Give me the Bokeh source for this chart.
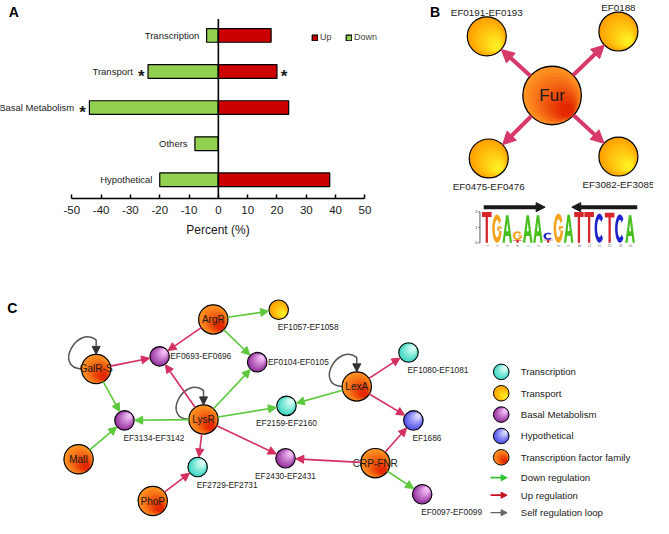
import math
import numpy as np
from bokeh.plotting import figure
from bokeh.models import (Range1d, ColumnDataSource, Arrow, NormalHead, Legend,
                          LegendItem, FixedTicker)
from bokeh.layouts import column, row
from bokeh.embed import file_html
from bokeh.resources import INLINE
from bokeh.core.properties import value

FONT = "Liberation Sans"

# ---------------- Panel A data ----------------
categories = ["Transcription", "Transport", "Basal Metabolism", "Others", "Hypothetical"]
up_values = [18, 20, 24, 0, 38]
down_values = [-4, -24, -44, -8, -20]
star_down = [False, True, True, False, False]
star_up = [False, True, False, False, False]
x_ticks = [-50, -40, -30, -20, -10, 0, 10, 20, 30, 40, 50]

# ---------------- Panel B data ----------------
fur_name = "Fur"
fur_x, fur_y = 565, 98
fur_targets = ["EF0191-EF0193", "EF0188", "EF0475-EF0476", "EF3082-EF3085"]
fur_target_x = [498, 633, 500, 633]
fur_target_y = [37, 32, 163, 161]
fur_label_side = ["above", "above", "below", "below"]

logo_letters = ["T", "G", "A", "G", "A", "A", "C", "G", "A", "T", "T", "C", "T", "C", "A"]
logo_bits = [1.98, 1.83, 1.77, 0.56, 1.77, 1.77, 0.45, 1.88, 1.81, 1.98, 1.98, 1.88, 1.94, 1.83, 1.77]
logo_minor_pos = [4, 7]
logo_minor_letters = ["T", "T"]
logo_minor_bits = [0.18, 0.2]

# ---------------- Panel C data ----------------
tf_names = ["ArgR", "GalR-S", "LysR", "MalI", "PhoP", "LexA", "CRP-FNR"]
tf_x = [218, 98, 208, 80, 156, 365, 384]
tf_y = [329, 380, 432, 473, 516, 398, 477]
gene_names = ["EF1057-EF1058", "EF0693-EF0696", "EF0104-EF0105", "EF3134-EF3142",
              "EF2159-EF2160", "EF2729-EF2731", "EF2430-EF2431", "EF1080-EF1081",
              "EF1686", "EF0097-EF0099"]
gene_class = ["Transport", "Basal Metabolism", "Basal Metabolism", "Basal Metabolism",
              "Transcription", "Transcription", "Basal Metabolism", "Transcription",
              "Hypothetical", "Basal Metabolism"]
gene_x = [285, 163, 263, 127, 293, 202, 292, 418, 423, 432]
gene_y = [319, 367, 373, 433, 418, 481, 472, 363, 433, 509]
gene_label_side = ["below_right", "right", "right", "below_right", "below",
                   "below_right", "below", "below_right", "below_right", "below_right"]
edge_source = ["ArgR", "ArgR", "ArgR", "GalR-S", "GalR-S", "LysR", "LysR", "LysR", "LysR",
               "LysR", "LysR", "MalI", "PhoP", "LexA", "LexA", "LexA", "CRP-FNR", "CRP-FNR",
               "CRP-FNR"]
edge_target = ["EF1057-EF1058", "EF0693-EF0696", "EF0104-EF0105", "EF0693-EF0696",
               "EF3134-EF3142", "EF0693-EF0696", "EF0104-EF0105", "EF2159-EF2160",
               "EF3134-EF3142", "EF2729-EF2731", "EF2430-EF2431", "EF3134-EF3142",
               "EF2729-EF2731", "EF2159-EF2160", "EF1080-EF1081", "EF1686",
               "EF2430-EF2431", "EF1686", "EF0097-EF0099"]
edge_kind = ["down", "up", "down", "up", "down", "up", "down", "down", "down", "up", "up",
             "down", "up", "down", "up", "up", "up", "up", "down"]
self_loops = ["GalR-S", "LysR", "LexA"]
class_names = ["Transcription", "Transport", "Basal Metabolism", "Hypothetical",
               "Transcription factor family"]
regulation_names = ["Down regulation", "Up regulation", "Self regulation  loop"]
regulation_kind = ["down", "up", "self"]

# ---------------- styles ----------------
CLASS_STYLE = {
    "Transcription": ("#3cd6c2", "#d8fff6", (0.7, -0.7)),
    "Transport": ("#ffa000", "#ffec20", (0.7, 0.7)),
    "Basal Metabolism": ("#96329f", "#f2bdf5", (0.7, -0.7)),
    "Hypothetical": ("#5050ea", "#d8d8ff", (0.7, -0.7)),
    "Transcription factor family": ("#ff9422", "#e42800", (0.7, 0.7)),
}
REG_COLOR = {"down": "#5cc83c", "up": "#d42f5f", "self": "#555555"}
LEGEND_REG_COLOR = {"down": "#33c433", "up": "#c81020", "self": "#666666"}
LOGO_COLORS = {"T": "#d6262b", "G": "#f5a21c", "A": "#46bf1f", "C": "#1f23c9"}

W, H = 653, 518
HT = 283
HB = H - HT
WA = 381
WB = W - WA
REF_SPLIT_Y = 292


def hex_rgb(h):
    h = h.lstrip("#")
    return tuple(int(h[i:i + 2], 16) for i in (0, 2, 4))


def mix(c1, c2, t):
    a, b = hex_rgb(c1), hex_rgb(c2)
    return "#%02x%02x%02x" % tuple(int(round(a[i] + (b[i] - a[i]) * t)) for i in range(3))


def draw_nodes(p, xs, ys, rs, classes, n=12, lw=1.2):
    cx, cy, cr, cc = [], [], [], []
    for x, y, r, c in zip(xs, ys, rs, classes):
        base, hi, (dx, dy) = CLASS_STYLE[c]
        for k in range(n):
            t = k / (n - 1)
            rk = r * (1 - 0.78 * t)
            off = (r - rk) * 0.92
            cx.append(x + off * dx)
            cy.append(y + off * dy)
            cr.append(rk)
            cc.append(mix(base, hi, t))
    p.circle(x=cx, y=cy, radius=cr, fill_color=cc, line_color=None)
    p.circle(x=xs, y=ys, radius=rs, fill_color=None, line_color="black", line_width=lw)


def add_arrows(p, sx, sy, sr, tx, ty, tr, color, width, head):
    xs, ys, xe, ye = [], [], [], []
    for a, b, ra, c, d, rb in zip(sx, sy, sr, tx, ty, tr):
        L = math.hypot(c - a, d - b)
        ux, uy = (c - a) / L, (d - b) / L
        xs.append(a + ux * ra)
        ys.append(b + uy * ra)
        xe.append(c - ux * rb)
        ye.append(d - uy * rb)
    src = ColumnDataSource(dict(xs=xs, ys=ys, xe=xe, ye=ye))
    p.add_layout(Arrow(x_start="xs", y_start="ys", x_end="xe", y_end="ye", source=src,
                       line_color=color, line_width=width,
                       end=NormalHead(size=head, fill_color=color, line_color=color,
                                      line_width=1)))


def blank_fig(w, h, xr, yr):
    p = figure(width=w, height=h, x_range=Range1d(*xr), y_range=Range1d(*yr),
               output_backend="svg", toolbar_location=None,
               x_axis_location=None, y_axis_location=None,
               min_border=0, min_border_left=0, min_border_right=0,
               min_border_top=0, min_border_bottom=0)
    p.outline_line_color = None
    p.grid.visible = False
    p.background_fill_color = "white"
    return p


# ================= Panel A =================
n_cat = len(categories)
ypos = [n_cat - i for i in range(n_cat)]
REF_ROW = 37.25          # reference pixels between category rows
REF_FIRST = 36           # reference pixel of first row
y_top = n_cat + REF_FIRST / REF_ROW
y_bot = n_cat - (REF_SPLIT_Y - REF_FIRST) / REF_ROW
y_axis_at = n_cat - (204 - REF_FIRST) / REF_ROW
y_zero_top = n_cat - (19 - REF_FIRST) / REF_ROW

pA = figure(width=WA, height=HT, x_range=Range1d(-223 / 3, (390 - 223) / 3),
            y_range=Range1d(y_bot, y_top), output_backend="svg", toolbar_location=None,
            y_axis_location=None, min_border=0, min_border_left=0, min_border_right=0,
            min_border_top=0, min_border_bottom=0)
pA.outline_line_color = None
pA.grid.visible = False

r_down = pA.hbar(y=ypos, left=down_values, right=0, height=0.38, fill_color="#92d050",
                 line_color="black", line_width=1.2)
r_up = pA.hbar(y=ypos, left=0, right=up_values, height=0.38, fill_color="#cc0000",
               line_color="black", line_width=1.2)
pA.segment(x0=[0], y0=[y_axis_at], x1=[0], y1=[y_zero_top], line_color="black", line_width=1.6)

lab_x = [d - (5.2 if s else 2.5) for d, s in zip(down_values, star_down)]
pA.text(x=lab_x, y=ypos, text=categories, text_align="right", text_baseline="middle",
        text_font=value(FONT), text_font_size="9.5px", text_color="#1a1a1a")
sd_x = [d - 2.3 for d, s in zip(down_values, star_down) if s]
sd_y = [y for y, s in zip(ypos, star_down) if s]
su_x = [u + 2.4 for u, s in zip(up_values, star_up) if s]
su_y = [y for y, s in zip(ypos, star_up) if s]
pA.text(x=sd_x + su_x, y=sd_y + su_y, text=["*"] * (len(sd_x) + len(su_x)),
        text_align="center", text_baseline="middle", y_offset=5,
        text_font=value(FONT), text_font_size="17px", text_font_style="bold",
        text_color="#1a1a1a")
pA.text(x=[-71.5], y=[n_cat + (REF_FIRST - 12) / REF_ROW], text=["A"], text_baseline="middle",
        text_font=value(FONT), text_font_size="14px", text_font_style="bold",
        text_color="black")

ax = pA.xaxis[0]
ax.fixed_location = y_axis_at
ax.ticker = FixedTicker(ticks=x_ticks)
ax.bounds = (-50, 50)
ax.major_label_overrides = {t: str(t) for t in x_ticks}
ax.major_tick_in = 4
ax.major_tick_out = 0
ax.minor_tick_in = 0
ax.minor_tick_out = 0
ax.axis_line_width = 1.5
ax.major_tick_line_width = 1.5
ax.major_label_text_font = FONT
ax.major_label_text_font_size = "11.5px"
ax.major_label_text_color = "#1a1a1a"
ax.major_label_standoff = 8
ax.axis_label = "Percent (%)"
ax.axis_label_text_font = FONT
ax.axis_label_text_font_size = "12px"
ax.axis_label_text_font_style = "normal"
ax.axis_label_text_color = "#1a1a1a"
ax.axis_label_standoff = 5

legA = Legend(items=[LegendItem(label="Up", renderers=[r_up]),
                     LegendItem(label="Down", renderers=[r_down])],
              orientation="horizontal", location=(311, HT - 42),
              label_text_font=FONT, label_text_font_size="9px", label_height=8,
              glyph_width=7, glyph_height=7, label_standoff=2, spacing=5,
              padding=0, margin=0, border_line_alpha=0, background_fill_alpha=0)
pA.add_layout(legA)

# ================= Panel B =================
pB = blank_fig(WB, HT, (390, 669), (REF_SPLIT_Y, 0))
add_arrows(pB, [fur_x] * 4, [fur_y] * 4, [30] * 4, fur_target_x, fur_target_y, [20] * 4,
           "#d6396a", 4, 13)
draw_nodes(pB, fur_target_x, fur_target_y, [20] * 4, ["Transport"] * 4, lw=1.2)
draw_nodes(pB, [fur_x], [fur_y], [30], ["Transcription factor family"], lw=1.3)
pB.text(x=[fur_x], y=[fur_y], text=[fur_name], text_align="center", text_baseline="middle",
        text_font=value(FONT), text_font_size="17px", text_color="#1a1a1a")
lbl_y = [y - 25 if s == "above" else y + 29 for y, s in zip(fur_target_y, fur_label_side)]
pB.text(x=fur_target_x, y=lbl_y, text=fur_targets, text_align="center",
        text_baseline="middle", text_font=value(FONT), text_font_size="9.8px",
        text_color="#1a1a1a")
pB.text(x=[445], y=[12], text=["B"], text_align="center", text_baseline="middle",
        text_font=value(FONT), text_font_size="14px", text_font_style="bold",
        text_color="black")

# sequence logo
LOGO_X0, LOGO_DX, LOGO_W, LOGO_BASE, LOGO_PX_BIT = 498, 10.5, 9.8, 250, 16


def ring_sector(a0, a1, ro=(0.5, 0.5), ri=(0.24, 0.31), n=30):
    angs = np.radians(np.linspace(a0, a1, n))
    outer = [(0.5 + ro[0] * np.cos(a), 0.5 + ro[1] * np.sin(a)) for a in angs]
    inner = [(0.5 + ri[0] * np.cos(a), 0.5 + ri[1] * np.sin(a)) for a in angs[::-1]]
    return outer + inner


LETTER_SHAPES = {
    "T": [[[(0, 1), (1, 1), (1, 0.84), (0.62, 0.84), (0.62, 0), (0.38, 0), (0.38, 0.84), (0, 0.84)]]],
    "A": [[[(0, 0), (0.37, 1), (0.63, 1), (1, 0), (0.76, 0), (0.68, 0.25), (0.32, 0.25), (0.24, 0)],
           [(0.39, 0.42), (0.61, 0.42), (0.5, 0.76)]]],
    "C": [[ring_sector(42, 318)]],
    "G": [[ring_sector(32, 360)], [[(0.54, 0.42), (1.0, 0.42), (1.0, 0.57), (0.54, 0.57)]]],
}

mp_xs, mp_ys, mp_col = [], [], []


def add_letter(letter, pos, bottom_bits, bits):
    xc = LOGO_X0 + (pos - 1) * LOGO_DX
    h = bits * LOGO_PX_BIT
    yb = LOGO_BASE - bottom_bits * LOGO_PX_BIT
    polys_x, polys_y = [], []
    for poly in LETTER_SHAPES[letter]:
        rx, ry = [], []
        for ring in poly:
            rx.append([xc - LOGO_W / 2 + u * LOGO_W for u, v in ring])
            ry.append([yb - v * h for u, v in ring])
        polys_x.append(rx)
        polys_y.append(ry)
    mp_xs.append(polys_x)
    mp_ys.append(polys_y)
    mp_col.append(LOGO_COLORS[letter])


minor = {p_: (l_, b_) for p_, l_, b_ in zip(logo_minor_pos, logo_minor_letters, logo_minor_bits)}
for i, (L, b) in enumerate(zip(logo_letters, logo_bits)):
    pos = i + 1
    base = 0.0
    if pos in minor:
        ml, mb = minor[pos]
        add_letter(ml, pos, 0.0, mb)
        base = mb
    add_letter(L, pos, base, b)
pB.multi_polygons(xs=mp_xs, ys=mp_ys, fill_color=mp_col, line_color=None)

# logo axis
ax_x = LOGO_X0 - 7
pB.segment(x0=[ax_x], y0=[LOGO_BASE], x1=[ax_x], y1=[LOGO_BASE - 2 * LOGO_PX_BIT],
           line_color="#333333", line_width=0.8)
tick_bits = [0, 1, 2]
pB.segment(x0=[ax_x - 1.5] * 3, y0=[LOGO_BASE - t * LOGO_PX_BIT for t in tick_bits],
           x1=[ax_x] * 3, y1=[LOGO_BASE - t * LOGO_PX_BIT for t in tick_bits],
           line_color="#333333", line_width=0.8)
pB.text(x=[ax_x - 2.5] * 3, y=[LOGO_BASE - t * LOGO_PX_BIT for t in tick_bits],
        text=[str(t) for t in tick_bits], text_align="right", text_baseline="middle",
        text_font=value(FONT), text_font_size="4px", text_color="#333333")
pos_nums = list(range(1, len(logo_letters) + 1))
pB.text(x=[LOGO_X0 + (q - 1) * LOGO_DX for q in pos_nums], y=[LOGO_BASE + 3] * len(pos_nums),
        text=[str(q) for q in pos_nums], text_align="center", text_baseline="middle",
        angle=math.pi / 2, text_font=value(FONT), text_font_size="3px", text_color="#555555")

# palindrome arrows
arm_start = [0.7, 15.7]
arm_end = [6.7, 9.3]
arr_y = LOGO_BASE - 2.3 * LOGO_PX_BIT
for s, e in zip(arm_start, arm_end):
    pB.add_layout(Arrow(x_start=LOGO_X0 + (s - 1) * LOGO_DX, y_start=arr_y,
                        x_end=LOGO_X0 + (e - 1) * LOGO_DX, y_end=arr_y,
                        line_color="#1a1a1a", line_width=4,
                        end=NormalHead(size=9, fill_color="#1a1a1a", line_color="#1a1a1a")))

# ================= Panel C =================
pC = blank_fig(W, HB, (0, 669), (534, REF_SPLIT_Y))
TF_R, GENE_R = 15, 10
pos_map = {}
for nme, x, y in zip(tf_names, tf_x, tf_y):
    pos_map[nme] = (x, y, TF_R)
for nme, x, y in zip(gene_names, gene_x, gene_y):
    pos_map[nme] = (x, y, GENE_R)

for kind in ["down", "up"]:
    sel = [i for i, k in enumerate(edge_kind) if k == kind]
    add_arrows(pC,
               [pos_map[edge_source[i]][0] for i in sel],
               [pos_map[edge_source[i]][1] for i in sel],
               [pos_map[edge_source[i]][2] for i in sel],
               [pos_map[edge_target[i]][0] for i in sel],
               [pos_map[edge_target[i]][1] for i in sel],
               [pos_map[edge_target[i]][2] + 0.5 for i in sel],
               REG_COLOR[kind], 1.6, 8)

# self loops
lx = [pos_map[t][0] for t in self_loops]
ly = [pos_map[t][1] for t in self_loops]
R = TF_R
pC.bezier(x0=[x - R for x in lx], y0=ly,
          x1=lx, y1=[y - 2.0 * R for y in ly],
          cx0=[x - 2.9 * R for x in lx], cy0=[y - 0.1 * R for y in ly],
          cx1=[x - 1.3 * R for x in lx], cy1=[y - 3.0 * R for y in ly],
          line_color=REG_COLOR["self"], line_width=1.5)
srcL = ColumnDataSource(dict(xs=lx, ys=[y - 2.0 * R for y in ly], xe=lx, ye=[y - R for y in ly]))
pC.add_layout(Arrow(x_start="xs", y_start="ys", x_end="xe", y_end="ye", source=srcL,
                    line_color=REG_COLOR["self"], line_width=1.5,
                    end=NormalHead(size=8, fill_color="#333333", line_color="#333333")))

draw_nodes(pC, gene_x, gene_y, [GENE_R] * len(gene_x), gene_class, lw=1.1)
draw_nodes(pC, tf_x, tf_y, [TF_R] * len(tf_x), ["Transcription factor family"] * len(tf_x), lw=1.2)
pC.text(x=tf_x, y=tf_y, text=tf_names, text_align="center", text_baseline="middle",
        text_font=value(FONT), text_font_size="10px", text_color="#1a1a1a")

# gene labels
for side, dx, dy, align in [("right", GENE_R + 1, 0, "left"),
                            ("below", 0, GENE_R + 8, "center"),
                            ("below_right", -1, GENE_R + 8, "left")]:
    sel = [i for i, s in enumerate(gene_label_side) if s == side]
    pC.text(x=[gene_x[i] + dx for i in sel], y=[gene_y[i] + dy for i in sel],
            text=[gene_names[i] for i in sel], text_align=align, text_baseline="middle",
            text_font=value(FONT), text_font_size="8.3px", text_color="#1a1a1a")

pC.text(x=[12], y=[317], text=["C"], text_align="center", text_baseline="middle",
        text_font=value(FONT), text_font_size="14px", text_font_style="bold", text_color="black")

# legend of panel C
LEG_X, LEG_Y0, LEG_DY = 513, 383, 22
LEG_TX = 533
leg_y = [LEG_Y0 + i * LEG_DY for i in range(len(class_names))]
draw_nodes(pC, [LEG_X] * len(class_names), leg_y, [8] * len(class_names), class_names, lw=1.0)
pC.text(x=[LEG_TX] * len(class_names), y=leg_y, text=class_names, text_align="left",
        text_baseline="middle", text_font=value(FONT), text_font_size="9.6px",
        text_color="#1a1a1a")
REG_Y0, REG_DY = 492, 18
reg_y = [REG_Y0 + i * REG_DY for i in range(len(regulation_names))]
for k, y in zip(regulation_kind, reg_y):
    c = LEGEND_REG_COLOR[k]
    pC.add_layout(Arrow(x_start=502, y_start=y, x_end=519, y_end=y, line_color=c,
                        line_width=1.8 if k != "self" else 1.3,
                        end=NormalHead(size=6, fill_color=c, line_color=c)))
pC.text(x=[LEG_TX] * len(regulation_names), y=reg_y, text=regulation_names, text_align="left",
        text_baseline="middle", text_font=value(FONT), text_font_size="9.6px",
        text_color="#1a1a1a")

layout = column(row(pA, pB), pC)
open("out.html", "w").write(file_html(layout, INLINE))
